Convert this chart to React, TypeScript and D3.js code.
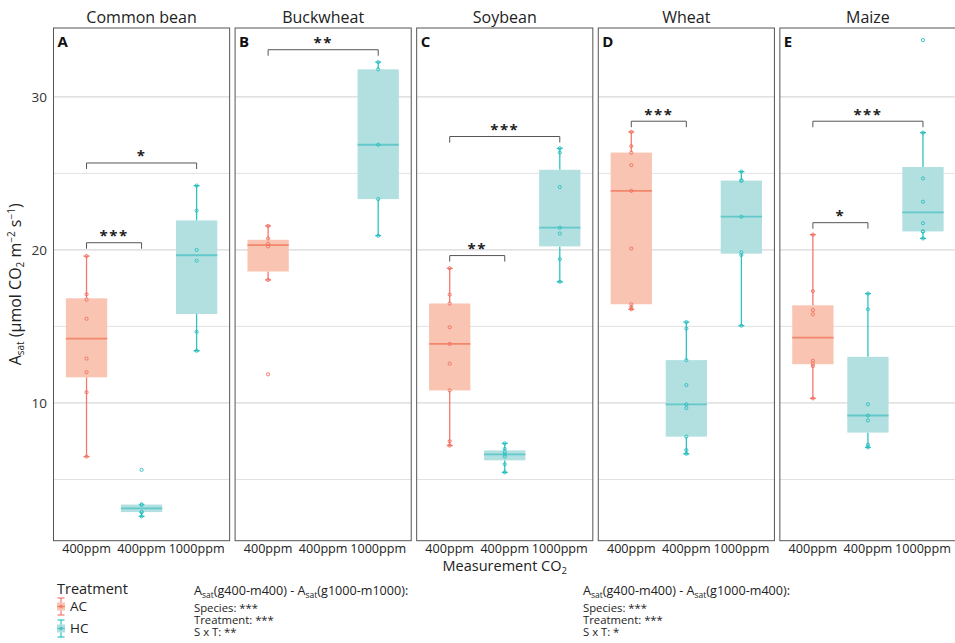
import React from "react";
import * as d3 from "d3";

// ---------- data ----------
const speciesNames = ["Common bean", "Buckwheat", "Soybean", "Wheat", "Maize"];
const panelTags = ["A", "B", "C", "D", "E"];
const groupKeys = ["AC400", "HC400", "HC1000"];
const tickLabels = ["400ppm", "400ppm", "1000ppm"];
const groupTreatment = ["AC", "HC", "HC"];
const yTicks = [10, 20, 30];
const yMinor = [5, 15, 25];

// A_sat values per species (order of speciesNames)
const acPoints400 = [
  [19.6, 17.1, 16.75, 15.5, 12.9, 12.0, 10.7, 6.5],
  [21.57, 20.75, 20.4, 20.23, 18.04, 11.87],
  [18.8, 17.08, 16.5, 14.95, 13.86, 12.57, 10.82, 7.5, 7.22],
  [27.71, 26.78, 26.36, 25.54, 23.86, 20.09, 16.45, 16.26, 16.12],
  [21.0, 17.31, 16.07, 15.79, 12.76, 12.57, 12.41, 10.3],
];
const hcPoints400 = [
  [5.63, 3.36, 3.36, 2.87, 2.87, 2.59],
  [],
  [7.36, 7.0, 6.8, 6.64, 6.5, 6.0, 5.47],
  [15.28, 14.86, 12.8, 11.17, 9.91, 9.67, 7.8, 6.92, 6.68],
  [17.15, 16.12, 9.91, 9.18, 8.86, 7.27, 7.1],
];
const hcPoints1000 = [
  [24.2, 22.57, 20.0, 19.3, 14.65, 13.41],
  [32.27, 31.8, 26.87, 23.32, 20.93],
  [26.64, 26.36, 24.11, 21.45, 21.07, 19.39, 17.92],
  [25.12, 24.55, 24.51, 22.17, 19.84, 19.67, 15.05],
  [33.71, 27.66, 24.67, 23.15, 21.75, 21.21, 21.2, 20.75],
];

// significance brackets: [speciesIndex, fromGroup, toGroup, yValue, label]
const sigBrackets: [number, number, number, number, string][] = [
  [0, 0, 1, 20.47, "***"],
  [0, 0, 2, 25.68, "*"],
  [1, 0, 2, 33.08, "**"],
  [2, 0, 1, 19.63, "**"],
  [2, 0, 2, 27.41, "***"],
  [3, 0, 1, 28.41, "***"],
  [4, 0, 1, 21.78, "*"],
  [4, 0, 2, 28.41, "***"],
];

const statsLeftLines = ["Species: ***", "Treatment: ***", "S x T: **"];
const statsRightLines = ["Species: ***", "Treatment: ***", "S x T: *"];
const legendLabels = ["AC", "HC"];

// ---------- styles ----------
const FONT = "'Open Sans', 'Noto Sans', sans-serif";
const colors: Record<string, any> = {
  AC: { line: "#F8766D", fill: "#F9C4B1", median: "#F2876E", point: "#EF6F5F" },
  HC: { line: "#2DC3C4", fill: "#B2E0E1", median: "#62C8C9", point: "#2ABDBE" },
};

function boxStats(values: number[]) {
  const s = values.slice().sort(d3.ascending);
  const q1 = d3.quantileSorted(s, 0.25) as number;
  const med = d3.quantileSorted(s, 0.5) as number;
  const q3 = d3.quantileSorted(s, 0.75) as number;
  const iqr = q3 - q1;
  const inside = s.filter((v) => v >= q1 - 1.5 * iqr && v <= q3 + 1.5 * iqr);
  return { q1, med, q3, lo: d3.min(inside) as number, hi: d3.max(inside) as number };
}

export default function App() {
  const W = 955;
  const H = 643;
  const top = 28;
  const bottom = 540.7;

  const panelScale = d3
    .scaleBand<string>()
    .domain(speciesNames)
    .range([53.5, 956])
    .paddingInner(0.03)
    .paddingOuter(0);

  const y = d3.scaleLinear().domain([1.0, 34.5]).range([bottom, top]);

  const groupData = [acPoints400, hcPoints400, hcPoints1000];

  return (
    <svg
      width={W}
      height={H}
      style={{ position: "absolute", left: 0, top: 0, background: "#fff" }}
      fontFamily={FONT}
    >
      <rect x={0} y={0} width={W} height={H} fill="#fff" />
      {/* y tick labels */}
      {yTicks.map((t) => (
        <text
          key={"yt" + t}
          x={47}
          y={y(t)}
          dy="0.35em"
          textAnchor="end"
          fontSize={13.5}
          fill="#333"
        >
          {t}
        </text>
      ))}
      {/* y axis title */}
      <text
        transform={`translate(21,${(top + bottom) / 2}) rotate(-90)`}
        textAnchor="middle"
        fontSize={16}
        fill="#222"
      >
        A
        <tspan fontSize={10} dy={3}>
          sat
        </tspan>
        <tspan dy={-3}> (µmol CO</tspan>
        <tspan fontSize={10} dy={3}>
          2
        </tspan>
        <tspan dy={-3}> m</tspan>
        <tspan fontSize={10} dy={-6}>
          −2
        </tspan>
        <tspan dy={6}> s</tspan>
        <tspan fontSize={10} dy={-6}>
          −1
        </tspan>
        <tspan dy={6}>)</tspan>
      </text>

      {speciesNames.map((sp, si) => {
        const left = panelScale(sp) as number;
        const bw = panelScale.bandwidth();
        const right = left + bw;
        const x = d3.scalePoint<string>().domain(groupKeys).range([left, right]).padding(0.6);
        const step = x.step();
        const boxW = step * 0.75;
        const capW = 6;
        return (
          <g key={sp}>
            <clipPath id={"clip" + si}>
              <rect x={left} y={top} width={bw} height={bottom - top} />
            </clipPath>
            {/* strip title */}
            <text
              x={left + bw / 2}
              y={17}
              dy="0.35em"
              textAnchor="middle"
              fontSize={16}
              fill="#222"
            >
              {sp}
            </text>
            <g clipPath={`url(#clip${si})`}>
              {yMinor.map((t) => (
                <line
                  key={"mn" + t}
                  x1={left}
                  x2={right}
                  y1={y(t)}
                  y2={y(t)}
                  stroke="#E2E2E2"
                  strokeWidth={1}
                />
              ))}
              {yTicks.map((t) => (
                <line
                  key={"mj" + t}
                  x1={left}
                  x2={right}
                  y1={y(t)}
                  y2={y(t)}
                  stroke="#D8D8D8"
                  strokeWidth={1.2}
                />
              ))}
              {groupKeys.map((g, gi) => {
                const pts = groupData[gi][si];
                if (!pts || pts.length === 0) return null;
                const st = boxStats(pts);
                const c = colors[groupTreatment[gi]];
                const cx = x(g) as number;
                return (
                  <g key={g}>
                    {/* whiskers */}
                    <line x1={cx} x2={cx} y1={y(st.hi)} y2={y(st.q3)} stroke={c.line} strokeWidth={1.3} />
                    <line x1={cx} x2={cx} y1={y(st.q1)} y2={y(st.lo)} stroke={c.line} strokeWidth={1.3} />
                    <line x1={cx - capW / 2} x2={cx + capW / 2} y1={y(st.hi)} y2={y(st.hi)} stroke={c.line} strokeWidth={1.3} />
                    <line x1={cx - capW / 2} x2={cx + capW / 2} y1={y(st.lo)} y2={y(st.lo)} stroke={c.line} strokeWidth={1.3} />
                    {/* box */}
                    <rect
                      x={cx - boxW / 2}
                      y={y(st.q3)}
                      width={boxW}
                      height={Math.max(0.5, y(st.q1) - y(st.q3))}
                      fill={c.fill}
                    />
                    <line
                      x1={cx - boxW / 2}
                      x2={cx + boxW / 2}
                      y1={y(st.med)}
                      y2={y(st.med)}
                      stroke={c.median}
                      strokeWidth={1.8}
                    />
                    {pts.map((v, pi) => (
                      <circle
                        key={pi}
                        cx={cx}
                        cy={y(v)}
                        r={1.6}
                        fill="none"
                        stroke={c.point}
                        strokeWidth={0.9}
                      />
                    ))}
                  </g>
                );
              })}
              {sigBrackets
                .filter((b) => b[0] === si)
                .map((b, bi) => {
                  const x1 = x(groupKeys[b[1]]) as number;
                  const x2 = x(groupKeys[b[2]]) as number;
                  const yy = y(b[3]);
                  return (
                    <g key={"sig" + bi}>
                      <path
                        d={`M${x1},${yy + 6}V${yy}H${x2}V${yy + 6}`}
                        fill="none"
                        stroke="#555"
                        strokeWidth={1}
                      />
                      <text
                        x={(x1 + x2) / 2}
                        y={yy - 1.5}
                        textAnchor="middle"
                        fontSize={15}
                        fontWeight="bold"
                        letterSpacing={1.5}
                        fill="#222"
                      >
                        {b[4]}
                      </text>
                    </g>
                  );
                })}
            </g>
            {/* panel border */}
            <rect
              x={left}
              y={top}
              width={bw}
              height={bottom - top}
              fill="none"
              stroke="#555"
              strokeWidth={1}
            />
            <text x={left + 4} y={47} fontSize={15} fontWeight="bold" fill="#111">
              {panelTags[si]}
            </text>
            {/* x tick labels */}
            {groupKeys.map((g, gi) => (
              <text
                key={"xl" + g}
                x={x(g) as number}
                y={549}
                dy="0.35em"
                textAnchor="middle"
                fontSize={12.6}
                fill="#222"
              >
                {tickLabels[gi]}
              </text>
            ))}
          </g>
        );
      })}

      {/* x axis title */}
      <text
        x={((panelScale.range()[0] as number) + (panelScale.range()[1] as number)) / 2}
        y={566}
        dy="0.35em"
        textAnchor="middle"
        fontSize={14.5}
        fill="#222"
      >
        Measurement CO
        <tspan fontSize={9.5} dy={3}>
          2
        </tspan>
      </text>

      {/* legend */}
      <text x={57} y={594} fontSize={14.5} fill="#222">
        Treatment
      </text>
      {legendLabels.map((lab, li) => {
        const cy = 606.5 + li * 22;
        const c = colors[lab];
        const kx = 61;
        return (
          <g key={lab}>
            <line x1={kx} x2={kx} y1={cy - 8.5} y2={cy + 8.5} stroke={c.line} strokeWidth={1.2} />
            <line x1={kx - 3.5} x2={kx + 3.5} y1={cy - 8.5} y2={cy - 8.5} stroke={c.line} strokeWidth={1.2} />
            <line x1={kx - 3.5} x2={kx + 3.5} y1={cy + 8.5} y2={cy + 8.5} stroke={c.line} strokeWidth={1.2} />
            <rect x={kx - 4} y={cy - 4} width={8} height={8} fill={c.fill} />
            <line x1={kx - 4} x2={kx + 4} y1={cy} y2={cy} stroke={c.median} strokeWidth={1.2} />
            <circle cx={kx} cy={cy} r={1.4} fill="none" stroke={c.point} strokeWidth={0.9} />
            <text x={70} y={cy} dy="0.35em" fontSize={13.5} fill="#222">
              {lab}
            </text>
          </g>
        );
      })}

      {/* stats annotation blocks */}
      {[
        { x: 194, lines: statsLeftLines, last: "m1000" },
        { x: 583, lines: statsRightLines, last: "m400" },
      ].map((blk, bi) => (
        <g key={"blk" + bi} fill="#222">
          <text x={blk.x} y={595} fontSize={12.6}>
            A
            <tspan fontSize={8.5} dy={2.5}>
              sat
            </tspan>
            <tspan dy={-2.5}>(g400-m400) - A</tspan>
            <tspan fontSize={8.5} dy={2.5}>
              sat
            </tspan>
            <tspan dy={-2.5}>{`(g1000-${blk.last}):`}</tspan>
          </text>
          {blk.lines.map((l, li) => (
            <text key={li} x={blk.x} y={612 + li * 12} fontSize={11.3}>
              {l}
            </text>
          ))}
        </g>
      ))}
    </svg>
  );
}
